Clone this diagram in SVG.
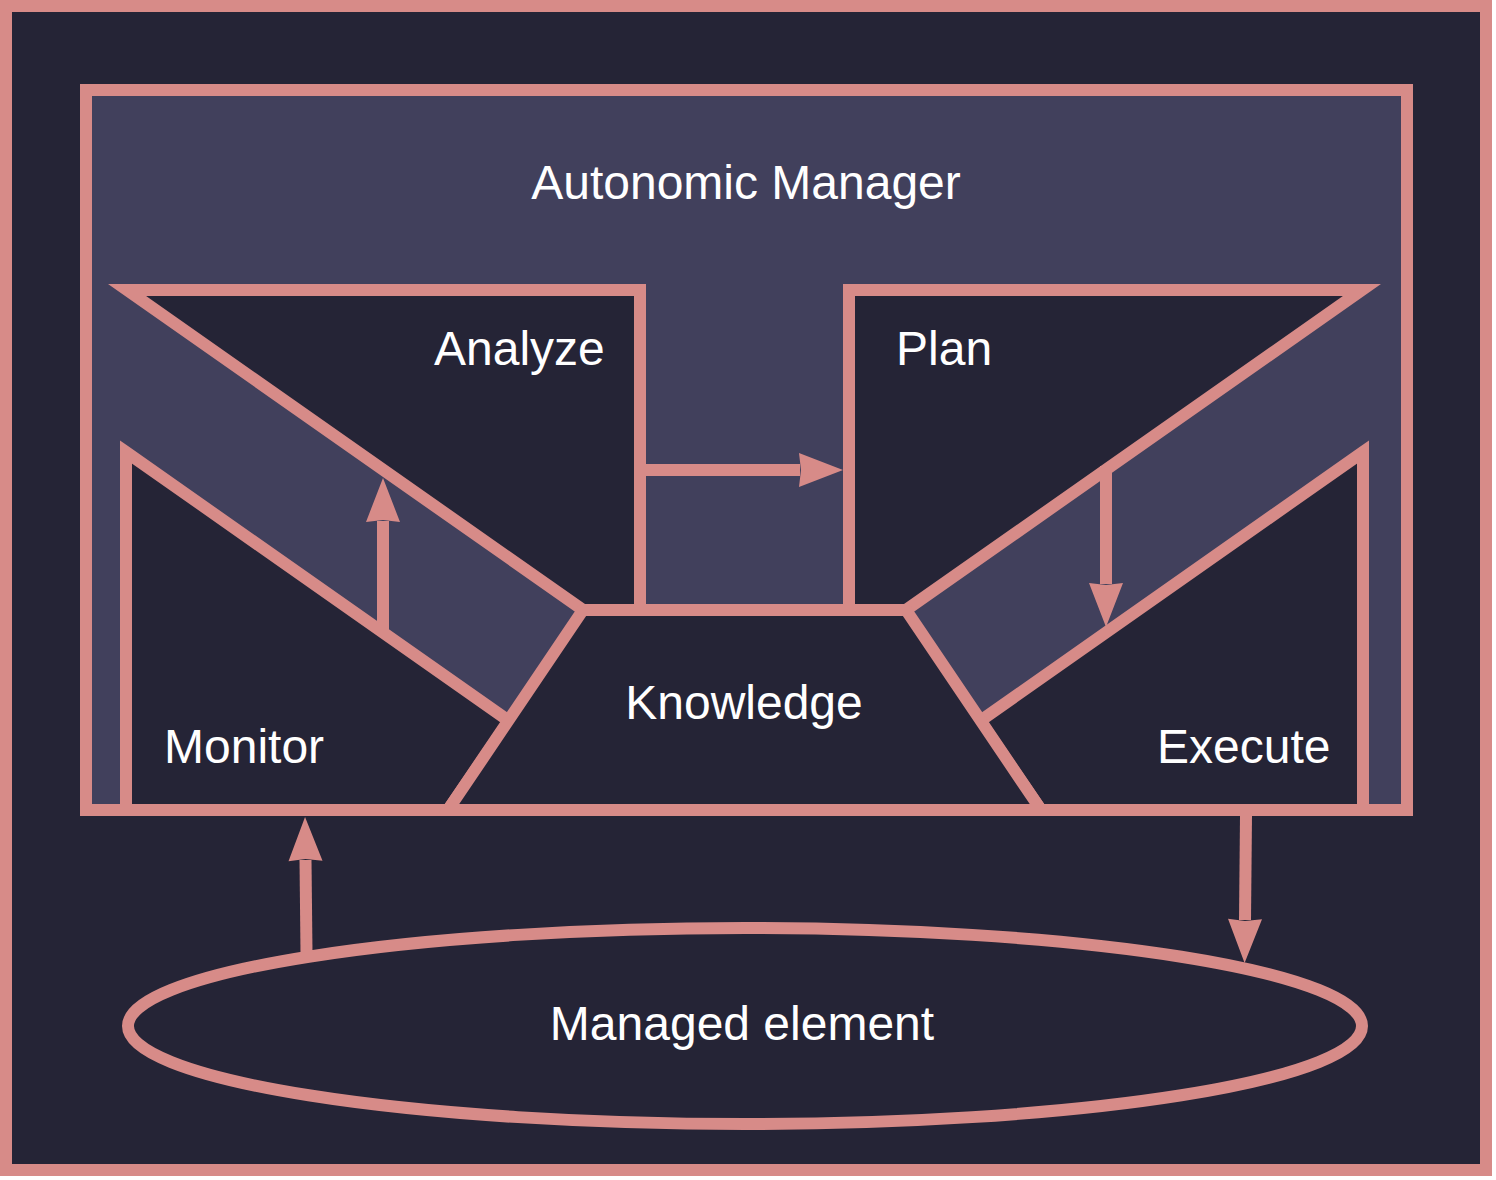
<svg xmlns="http://www.w3.org/2000/svg" width="1496" height="1180" viewBox="0 0 1496 1180">
  <style>
    .shape { stroke: #d78b88; stroke-width: 12; fill: #252436; }
    .mgr { stroke: #d78b88; stroke-width: 12; fill: #41405c; }
    .lbl { font-family: "Liberation Sans", Arial, sans-serif; font-size: 48px; fill: #ffffff; }
    .edge { stroke: #d78b88; stroke-width: 12; fill: none; }
  </style>
  <defs>
    <marker id="arr" markerUnits="userSpaceOnUse" viewBox="0 -18 46 36" markerWidth="46" markerHeight="36" refX="1" refY="0" orient="auto" overflow="visible">
      <path d="M0,-17 L44,0 L0,17 L2,0 Z" fill="#d78b88"/>
    </marker>
  </defs>
  <g id="frame">
    <rect x="6" y="6" width="1480" height="1164" class="shape"/>
  </g>
  <g id="autonomic-manager">
    <rect x="86" y="90" width="1321" height="720" class="mgr"/>
    <text x="746" y="199" text-anchor="middle" class="lbl">Autonomic Manager</text>
  </g>
  <g id="analyze">
    <polygon points="127,290 640,290 640,610 583,610" class="shape"/>
    <text x="434" y="365" class="lbl">Analyze</text>
  </g>
  <g id="plan">
    <polygon points="849,290 1362,290 906,610 849,610" class="shape"/>
    <text x="896" y="365" class="lbl">Plan</text>
  </g>
  <g id="monitor">
    <polygon points="126,452 509,721 448,810 126,810" class="shape"/>
    <text x="164" y="763" class="lbl">Monitor</text>
  </g>
  <g id="execute">
    <polygon points="1363,452 980,721 1041,810 1363,810" class="shape"/>
    <text x="1157" y="763" class="lbl">Execute</text>
  </g>
  <g id="knowledge">
    <polygon points="583,610 906,610 1041,810 448,810" class="shape"/>
    <text x="744" y="719" text-anchor="middle" class="lbl">Knowledge</text>
  </g>
  <g id="managed-element">
    <ellipse cx="745" cy="1026" rx="617" ry="98" class="shape"/>
    <text x="742" y="1040" text-anchor="middle" class="lbl">Managed element</text>
  </g>
  <g id="connectors">
    <path d="M383,632 L383,521" class="edge" marker-end="url(#arr)"/>
    <path d="M646,470 L800,470" class="edge" marker-end="url(#arr)"/>
    <path d="M1106,466 L1106,584" class="edge" marker-end="url(#arr)"/>
    <path d="M306.5,953 L305.5,860" class="edge" marker-end="url(#arr)"/>
    <path d="M1246,816 L1245,920" class="edge" marker-end="url(#arr)"/>
  </g>
</svg>
